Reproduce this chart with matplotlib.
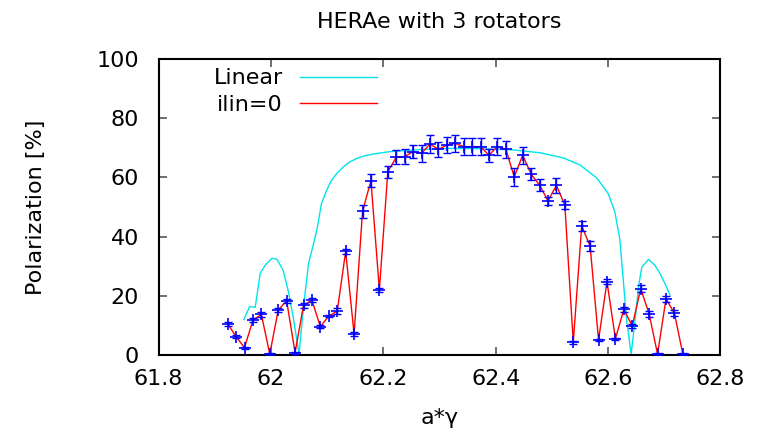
import matplotlib
matplotlib.use("Agg")
import matplotlib.pyplot as plt
from matplotlib.ticker import FuncFormatter

plt.rcParams['font.family'] = ['DejaVu Sans']

# --- data ---
# ilin=0 tracking results (a*gamma, polarization, error)
agamma = [61.923, 61.938, 61.953, 61.968, 61.983, 61.998, 62.013, 62.028,
          62.043, 62.058, 62.073, 62.088, 62.103, 62.118, 62.133, 62.148,
          62.163, 62.178, 62.193, 62.208, 62.223, 62.238, 62.253, 62.268,
          62.283, 62.298, 62.313, 62.328, 62.343, 62.358, 62.373, 62.388,
          62.403, 62.418, 62.433, 62.448, 62.463, 62.478, 62.493, 62.508,
          62.523, 62.538, 62.553, 62.568, 62.583, 62.598, 62.613, 62.628,
          62.643, 62.658, 62.673, 62.688, 62.703, 62.718, 62.733]
pol = [10.6, 6.2, 2.5, 11.8, 13.7, 0.3, 15.2, 18.3, 0.8, 16.8, 18.5, 9.6,
       13.2, 14.8, 35.0, 7.1, 48.5, 58.9, 22.0, 61.9, 66.8, 67.0, 68.7, 68.1,
       71.3, 69.5, 70.9, 71.5, 70.4, 70.4, 70.4, 67.5, 70.4, 69.5, 60.2, 67.5,
       61.1, 57.4, 52.1, 57.3, 50.7, 4.3, 43.6, 36.8, 5.1, 24.8, 5.5, 15.4,
       9.8, 22.4, 13.9, 0.3, 19.0, 14.1, 0.3]
pol_err = [0.7, 0.6, 0.3, 0.7, 0.8, 0.3, 0.7, 0.7, 0.3, 0.9, 0.6, 0.6,
           0.4, 1.1, 0.85, 0.6, 2.1, 2.1, 0.7, 2.1, 2.4, 2.6, 2.2, 2.8,
           3.0, 2.5, 2.6, 2.9, 2.8, 2.9, 2.9, 2.25, 2.8, 2.9, 3.1, 2.8,
           2.0, 2.0, 1.4, 2.5, 1.5, 0.5, 1.8, 1.8, 0.3, 0.9, 0.3, 0.8,
           0.7, 1.1, 0.9, 0.3, 1.1, 1.0, 0.3]

# linear theory curve
lin_x = [61.952, 61.962, 61.972, 61.981, 61.990, 62.002, 62.011, 62.022,
         62.031, 62.040, 62.050, 62.058, 62.067, 62.076, 62.082, 62.090,
         62.100, 62.108, 62.118, 62.129, 62.140, 62.153, 62.165, 62.182,
         62.211, 62.265, 62.319, 62.372, 62.431, 62.480, 62.520, 62.550,
         62.580, 62.600, 62.612, 62.621, 62.627, 62.633, 62.641, 62.648,
         62.654, 62.660, 62.672, 62.683, 62.692, 62.701, 62.710]
lin_y = [12.0, 16.4, 16.1, 27.6, 30.4, 32.7, 32.3, 28.5, 21.5, 12.5, 0.3,
         16.3, 31.0, 37.7, 42.5, 51.2, 56.0, 59.1, 61.5, 63.6, 65.2, 66.4,
         67.2, 67.9, 68.7, 69.4, 69.8, 69.7, 69.3, 68.3, 66.6, 64.2, 59.8,
         54.6, 48.4, 38.9, 25.3, 11.8, 0.3, 11.8, 23.0, 29.7, 32.3, 30.4,
         27.6, 24.2, 20.3]

fig = plt.figure(figsize=(7.71, 4.33), dpi=100)
ax = fig.add_axes([0.2056, 0.1801, 0.7289, 0.6836])

ax.plot(lin_x, lin_y, color='#00e4ec', lw=1.0, label='Linear')
ax.plot(agamma, pol, color='red', lw=1.0, label='ilin=0')
ax.errorbar(agamma, pol, yerr=pol_err, fmt='none', ecolor='blue',
            elinewidth=1.0, capsize=3, capthick=1.0, zorder=3)
ax.plot(agamma, pol, linestyle='none', marker='+', color='blue',
        markersize=8, markeredgewidth=1.2, zorder=4)

ax.set_xlim(61.8, 62.8)
ax.set_ylim(0, 100)
ax.set_xticks([61.8, 62.0, 62.2, 62.4, 62.6, 62.8])
ax.set_yticks([0, 20, 40, 60, 80, 100])
ax.xaxis.set_major_formatter(FuncFormatter(lambda v, p: '%g' % round(v, 1)))

ax.tick_params(direction='in', length=6, width=1.2, color='#555555',
               top=True, right=True, labelsize=16)
ax.tick_params(axis='x', pad=10)
ax.tick_params(axis='y', pad=14)
for s in ax.spines.values():
    s.set_linewidth(1.5)

ax.set_title("HERAe with 3 rotators", fontsize=16, pad=22)
ax.set_xlabel("a*\u03b3", fontsize=16, labelpad=14)
ax.set_ylabel("Polarization [%]", fontsize=16, labelpad=36)

ax.legend(loc='upper right', bbox_to_anchor=(0.389, 0.968), frameon=False,
          markerfirst=False, fontsize=16, handlelength=3.45,
          handletextpad=0.8, labelspacing=0.3, borderpad=0,
          borderaxespad=0)

fig.savefig("out.png", dpi=100)
